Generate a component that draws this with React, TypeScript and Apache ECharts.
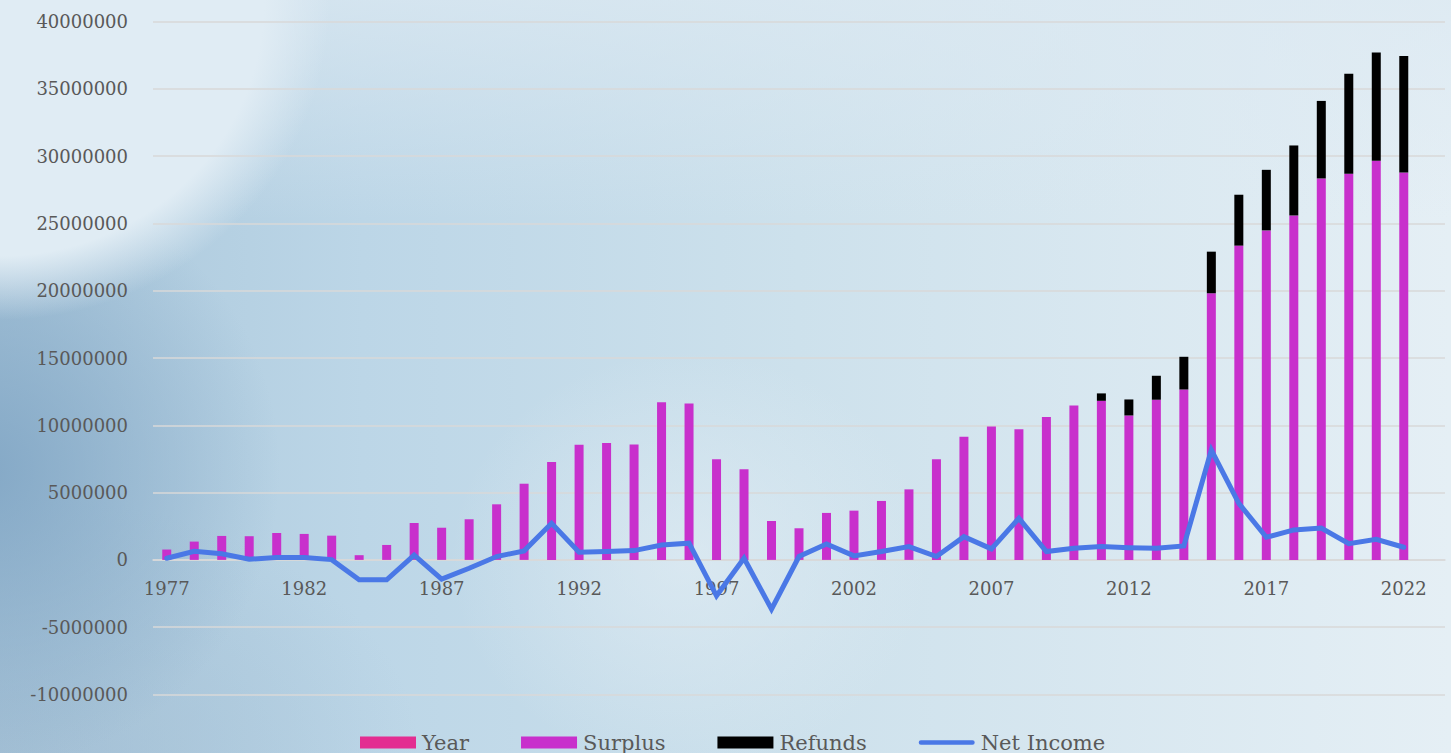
import React, { useEffect, useRef } from "react";
import * as echarts from "echarts";

const years: string[] = [
  "1977","1978","1979","1980","1981","1982","1983","1984","1985","1986",
  "1987","1988","1989","1990","1991","1992","1993","1994","1995","1996",
  "1997","1998","1999","2000","2001","2002","2003","2004","2005","2006",
  "2007","2008","2009","2010","2011","2012","2013","2014","2015","2016",
  "2017","2018","2019","2020","2021","2022","2023",
];

const yearValues: (number | null)[] = [];

const surplus: (number | null)[] = [
  770000, 1360000, 1780000, 1760000, 2000000, 1930000, 1800000, 350000, 1110000, 2740000,
  2390000, 3020000, 4130000, 5660000, 7270000, 8550000, 8680000, 8580000, 11720000, 11620000,
  7470000, 6730000, 2890000, 2350000, 3490000, 3660000, 4380000, 5240000, 7470000, 9150000,
  9920000, 9700000, 10610000, 11470000, 11820000, 10730000, 11900000, 12660000, 19810000, 23350000,
  24480000, 25590000, 28340000, 28690000, 29650000, 28780000, null,
];

const refunds: (number | null)[] = [
  0, 0, 0, 0, 0, 0, 0, 0, 0, 0,
  0, 0, 0, 0, 0, 0, 0, 0, 0, 0,
  0, 0, 0, 0, 0, 0, 0, 0, 0, 0,
  0, 0, 0, 0, 550000, 1190000, 1780000, 2430000, 3090000, 3780000,
  4500000, 5200000, 5760000, 7420000, 8040000, 8660000, null,
];

const netIncome: (number | null)[] = [
  120000, 640000, 450000, 50000, 170000, 170000, 20000, -1480000, -1480000, 350000,
  -1430000, -620000, 250000, 670000, 2720000, 570000, 620000, 690000, 1110000, 1240000,
  -2670000, 120000, -3660000, 250000, 1190000, 300000, 620000, 990000, 250000, 1730000,
  820000, 3090000, 620000, 870000, 990000, 910000, 870000, 1040000, 8160000, 4200000,
  1680000, 2230000, 2370000, 1210000, 1530000, 940000, null,
];

const FONT = "'DejaVu Serif', serif";
const TEXT = "#595959";
const GRID = "#d9d9d9";

export default function App() {
  const ref = useRef<HTMLDivElement>(null);
  useEffect(() => {
    if (!ref.current) return;
    const chart = echarts.init(ref.current, null, { renderer: "svg" });
    chart.setOption({
      animation: false,
      backgroundColor: "transparent",
      grid: { left: 153, right: 6, top: 21.5, bottom: 58.5, containLabel: false },
      legend: {
        top: 727,
        left: 355,
        itemWidth: 56,
        itemHeight: 12,
        itemGap: 52,
        textStyle: { fontFamily: FONT, fontSize: 21, color: TEXT, padding: [0, 0, 0, 1] },
        data: [
          { name: "Year", icon: "rect" },
          { name: "Surplus", icon: "rect" },
          { name: "Refunds", icon: "rect" },
          { name: "Net Income", icon: "path://M2.5,0 L60,0 A2.5,2.5 0 0 1 60,5 L2.5,5 A2.5,2.5 0 0 1 2.5,0 Z" },
        ],
      },
      xAxis: {
        type: "category",
        data: years,
        boundaryGap: true,
        position: "bottom",
        offset: -134.6,
        axisLine: { show: true, onZero: false, lineStyle: { color: GRID, width: 1.5 } },
        axisTick: { show: false },
        axisLabel: { interval: 4, margin: 20, fontFamily: FONT, fontSize: 18, color: TEXT },
        splitLine: { show: false },
      },
      yAxis: {
        type: "value",
        min: -10000000,
        max: 40000000,
        interval: 5000000,
        axisLine: { show: false },
        axisTick: { show: false },
        axisLabel: {
          margin: 25,
          fontFamily: FONT,
          fontSize: 18,
          color: TEXT,
          formatter: (v: number) => String(v),
        },
        splitLine: { lineStyle: { color: GRID, width: 1.5 } },
      },
      series: [
        { name: "Year", type: "bar", stack: "a", barWidth: 9, itemStyle: { color: "#E32D91" }, data: yearValues },
        { name: "Surplus", type: "bar", stack: "a", barWidth: 9, itemStyle: { color: "#C830CC" }, data: surplus },
        { name: "Refunds", type: "bar", stack: "a", barWidth: 9, itemStyle: { color: "#000000" }, data: refunds },
        {
          name: "Net Income",
          type: "line",
          data: netIncome,
          showSymbol: false,
          symbol: "none",
          z: 5,
          itemStyle: { color: "#4A78E6" },
          lineStyle: { color: "#4A78E6", width: 5, cap: "round", join: "miter" },
        },
      ],
    });
    return () => chart.dispose();
  }, []);

  const bg = [
    "radial-gradient(ellipse 330px 320px at 0px 0px, rgba(224,236,244,1) 0%, rgba(224,236,244,1) 80%, rgba(224,236,244,0) 100%)",
    "linear-gradient(180deg, rgba(220,233,242,0.75) 0px, rgba(220,233,242,0) 220px)",
    "radial-gradient(ellipse 240px 210px at 690px 560px, rgba(226,237,244,0.65), rgba(226,237,244,0) 100%)",
    "radial-gradient(ellipse 300px 300px at -20px 470px, rgba(128,165,196,0.9), rgba(128,165,196,0) 100%)",
    "radial-gradient(ellipse 420px 260px at 0px 753px, rgba(160,188,210,0.7), rgba(160,188,210,0) 100%)",
    "linear-gradient(90deg, #a9c6da 0%, #bcd6e7 25%, #cde1ec 55%, #e5eff5 100%)",
  ].join(", ");

  return (
    <div
      style={{ position: "absolute", left: 0, top: 0, width: 1451, height: 753, background: bg, overflow: "hidden" }}
    >
      <div ref={ref} style={{ width: 1451, height: 753 }} />
    </div>
  );
}
